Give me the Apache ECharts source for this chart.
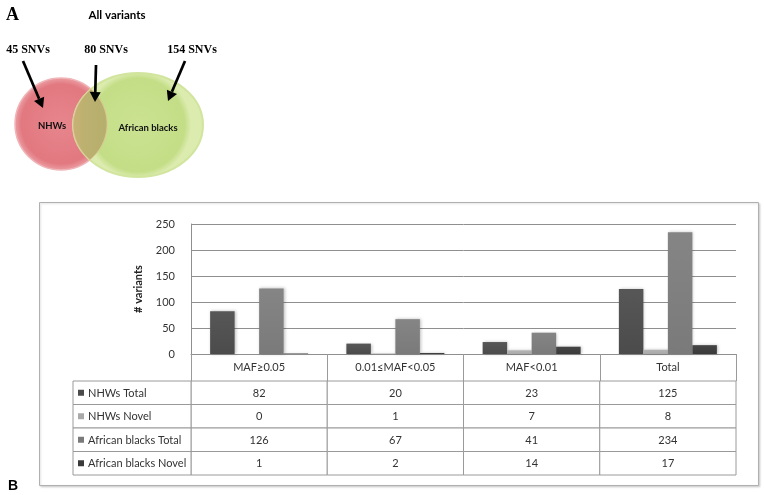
<!DOCTYPE html>
<html><head><meta charset="utf-8">
<script src="https://cdn.jsdelivr.net/npm/echarts@6.0.0/dist/echarts.min.js"></script>
<style>html,body{margin:0;padding:0;background:#fff}#c{width:764px;height:495px}</style>
</head><body><div id="c"></div>
<script>
// ---- data ----
const categories = ['MAF≥0.05', '0.01≤MAF<0.05', 'MAF<0.01', 'Total'];
const seriesNames = ['NHWs Total', 'NHWs Novel', 'African blacks Total', 'African blacks Novel'];
const nhwsTotal = [82, 20, 23, 125];
const nhwsNovel = [0, 1, 7, 8];
const africanTotal = [126, 67, 41, 234];
const africanNovel = [1, 2, 14, 17];
const yTickMin = 0, yTickMax = 250, yTickStep = 50;
const yAxisTitle = '# variants';
const vennTitle = 'All variants';
const vennSets = ['NHWs', 'African blacks'];
const vennCounts = ['45 SNVs', '80 SNVs', '154 SNVs'];
const panelLetters = ['A', 'B'];

// ---- styles ----
const colors = ['#4b4b4b', '#a9a9a9', '#7a7a7a', '#3a3a3a'];
const colorsTop = ['#575757', '#b3b3b3', '#858585', '#454545'];
const FONT = 'Lato, "Liberation Sans", sans-serif';
const gridLine = '#8f8f8f';
const tableLine = '#9a9a9a';

const chart = echarts.init(document.getElementById('c'), null, {renderer: 'canvas'});

const seriesValues = [nhwsTotal, nhwsNovel, africanTotal, africanNovel];

const barSeries = seriesValues.map((vals, i) => ({
  name: seriesNames[i],
  type: 'bar',
  xAxisIndex: 0, yAxisIndex: 0,
  data: vals,
  barWidth: 24.5,
  barGap: '0%',
  itemStyle: {
    color: new echarts.graphic.LinearGradient(0, 0, 0, 1, [
      {offset: 0, color: colorsTop[i]}, {offset: 1, color: colors[i]}
    ]),
    shadowColor: 'rgba(0,0,0,0.25)', shadowBlur: 3, shadowOffsetX: 1
  },
  animation: false
}));

// table cells
const tableData = [];
seriesValues.forEach((vals, r) => vals.forEach((v, c) => tableData.push([c, r, v])));

const LABEL_COL_W = 118;
function renderCell(params, api) {
  const c = api.value(0), r = api.value(1), v = api.value(2);
  const pt = api.coord([c, r]);
  const sz = api.size([1, 1]);
  const x0 = pt[0] - sz[0] / 2, y0 = pt[1] - sz[1] / 2;
  const children = [
    {type: 'rect', shape: {x: x0, y: y0, width: sz[0], height: sz[1]},
     style: {fill: '#fff', stroke: tableLine, lineWidth: 1}},
    {type: 'text', style: {text: String(v), x: pt[0], y: pt[1] + 0.5, align: 'center',
     verticalAlign: 'middle', fontSize: 11, fontFamily: FONT, fill: '#333'}}
  ];
  if (c === 0) {
    const lx = x0 - LABEL_COL_W;
    children.push(
      {type: 'rect', shape: {x: lx, y: y0, width: LABEL_COL_W, height: sz[1]},
       style: {fill: '#fff', stroke: tableLine, lineWidth: 1}},
      {type: 'rect', shape: {x: lx + 5, y: pt[1] - 3, width: 6, height: 6},
       style: {fill: colors[r]}},
      {type: 'text', style: {text: seriesNames[r], x: lx + 15, y: pt[1] + 0.5, align: 'left',
       verticalAlign: 'middle', fontSize: 11, fontFamily: FONT, fill: '#333'}}
    );
  }
  return {type: 'group', children};
}

// venn / decoration graphics
function arrow(x1, y1, x2, y2) {
  const a = Math.atan2(y2 - y1, x2 - x1), L = 10, W = 5.5;
  const bx = x2 - L * Math.cos(a), by = y2 - L * Math.sin(a);
  return [
    {type: 'line', shape: {x1, y1, x2: bx, y2: by}, style: {stroke: '#000', lineWidth: 2.7}},
    {type: 'polygon', shape: {points: [[x2, y2], [bx + W * Math.sin(a), by - W * Math.cos(a)], [bx - W * Math.sin(a), by + W * Math.cos(a)]]},
     style: {fill: '#000'}}
  ];
}

const C1 = {cx: 61, cy: 124, r: 46};
const E2 = {cx: 138, cy: 125, rx: 65, ry: 52};
function lensPoints() {
  const pts = [];
  const N = 360;
  for (let i = -N / 2; i <= N / 2; i++) {
    const t = i / N * 2 * Math.PI;
    const x = C1.cx + C1.r * Math.cos(t), y = C1.cy + C1.r * Math.sin(t);
    if (((x - E2.cx) / E2.rx) ** 2 + ((y - E2.cy) / E2.ry) ** 2 <= 1) pts.push([x, y]);
  }
  for (let i = 0; i <= N; i++) {
    const t = i / N * 2 * Math.PI;
    const x = E2.cx + E2.rx * Math.cos(t), y = E2.cy + E2.ry * Math.sin(t);
    if ((x - C1.cx) ** 2 + (y - C1.cy) ** 2 <= C1.r * C1.r) pts.push([x, y]);
  }
  return pts;
}

const graphics = [
  {type: 'rect', shape: {x: 39.5, y: 202.5, width: 719, height: 283}, z: -10,
   style: {fill: '#fff', stroke: '#b0b0b0', lineWidth: 1, shadowColor: 'rgba(0,0,0,0.15)', shadowBlur: 2, shadowOffsetX: 1, shadowOffsetY: 1}},
  {type: 'text', style: {text: panelLetters[1], x: 8, y: 486, verticalAlign: 'middle', fontSize: 14, fontWeight: 'bold', fontFamily: '"Liberation Sans", Arial, sans-serif', fill: '#000'}},
  {type: 'text', style: {text: panelLetters[0], x: 6, y: 15, verticalAlign: 'middle', fontSize: 18, fontWeight: 'bold', fontFamily: '"Liberation Serif", "DejaVu Serif", serif', fill: '#000'}},
  {type: 'text', style: {text: vennTitle, x: 117, y: 15, align: 'center', verticalAlign: 'middle', fontSize: 11.5, fontWeight: 'bold', fontFamily: FONT, fill: '#000'}},
  {type: 'ellipse', shape: {cx: C1.cx, cy: C1.cy, rx: C1.r, ry: C1.r},
   style: {fill: new echarts.graphic.RadialGradient(0.5, 0.5, 0.5, [
     {offset: 0, color: '#e7868d'}, {offset: 0.85, color: '#e27880'}, {offset: 1, color: '#eca0a5'}]),
     stroke: '#f0b5b8', lineWidth: 1.5}},
  {type: 'ellipse', shape: {cx: E2.cx, cy: E2.cy, rx: E2.rx, ry: E2.ry},
   style: {fill: new echarts.graphic.RadialGradient(0.5, 0.5, 0.5, [
     {offset: 0, color: 'rgba(200,225,140,0.95)'}, {offset: 0.88, color: 'rgba(192,220,128,0.95)'}, {offset: 1, color: 'rgba(218,234,170,0.95)'}]),
     stroke: 'rgba(208,228,155,0.95)', lineWidth: 2}},
  {type: 'polygon', shape: {points: lensPoints()},
   style: {fill: new echarts.graphic.LinearGradient(0, 0, 1, 0, [
     {offset: 0, color: '#c9b177'}, {offset: 0.3, color: '#bdb170'}, {offset: 1, color: '#b5ae6c'}]),
     stroke: 'rgba(230,200,160,0.8)', lineWidth: 1}},
  {type: 'text', style: {text: vennSets[0], x: 52, y: 126, align: 'center', verticalAlign: 'middle', fontSize: 9.5, fontWeight: 'bold', fontFamily: FONT, fill: '#111'}},
  {type: 'text', style: {text: vennSets[1], x: 148, y: 128, align: 'center', verticalAlign: 'middle', fontSize: 9.5, fontWeight: 'bold', fontFamily: FONT, fill: '#111'}},
  {type: 'text', style: {text: vennCounts[0], x: 28, y: 50, align: 'center', verticalAlign: 'middle', fontSize: 12, fontWeight: 'bold', fontFamily: '"Liberation Serif", serif', fill: '#000'}},
  {type: 'text', style: {text: vennCounts[1], x: 106, y: 50, align: 'center', verticalAlign: 'middle', fontSize: 12, fontWeight: 'bold', fontFamily: '"Liberation Serif", serif', fill: '#000'}},
  {type: 'text', style: {text: vennCounts[2], x: 192, y: 50, align: 'center', verticalAlign: 'middle', fontSize: 12, fontWeight: 'bold', fontFamily: '"Liberation Serif", serif', fill: '#000'}},
  ...arrow(23, 61, 43, 108),
  ...arrow(96, 65, 95, 102),
  ...arrow(185, 61, 168, 101)
];

const option = {
  backgroundColor: '#fff',
  animation: false,
  textStyle: {fontFamily: FONT},
  grid: [
    {left: 191, right: 28, top: 224, bottom: 141, outerBoundsMode: 'none'},
    {left: 191, right: 28, top: 381, bottom: 20, outerBoundsMode: 'none'}
  ],
  xAxis: [
    {type: 'category', gridIndex: 0, data: categories,
     axisLine: {show: true, lineStyle: {color: gridLine, width: 1}},
     axisTick: {show: true, length: 27, inside: false, alignWithLabel: false, lineStyle: {color: tableLine}},
     axisLabel: {show: true, fontSize: 11, color: '#333', margin: 8, fontFamily: FONT, interval: 0},
     splitLine: {show: false}},
    {type: 'category', gridIndex: 1, data: categories, show: false}
  ],
  yAxis: [
    {type: 'value', gridIndex: 0, min: yTickMin, max: yTickMax, interval: yTickStep,
     name: yAxisTitle, nameLocation: 'middle', nameGap: 47, nameRotate: 90,
     nameTextStyle: {fontSize: 11, fontWeight: 'bold', color: '#222', fontFamily: FONT},
     axisLine: {show: true, lineStyle: {color: gridLine}},
     axisTick: {show: false},
     axisLabel: {fontSize: 11, color: '#333', margin: 16, fontFamily: FONT},
     splitLine: {show: true, lineStyle: {color: gridLine, width: 1}}},
    {type: 'category', gridIndex: 1, data: seriesNames, inverse: true, show: false}
  ],
  series: [
    ...barSeries,
    {type: 'custom', xAxisIndex: 1, yAxisIndex: 1, clip: false, renderItem: renderCell,
     data: tableData, animation: false, silent: true}
  ],
  graphic: graphics
};
chart.setOption(option);
</script></body></html>
